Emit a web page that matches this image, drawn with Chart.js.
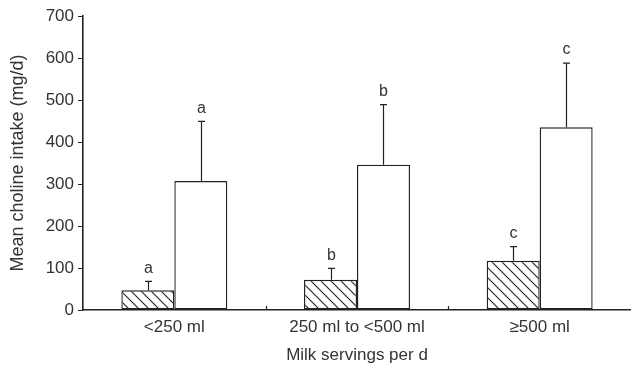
<!DOCTYPE html>
<html>
<head>
<meta charset="utf-8">
<script src="https://cdn.jsdelivr.net/npm/chart.js@4.4.0/dist/chart.umd.min.js"></script>
<style>
  html, body { margin: 0; padding: 0; background: #fff; }
  #wrap { width: 631px; height: 370px; }
</style>
</head>
<body>
<div id="wrap"><canvas id="chart-1"></canvas></div>
<script>
// data
const categories = ["<250 ml", "250 ml to <500 ml", "\u2265500 ml"];
const hatchedMeans = [47, 72, 117];
const hatchedSD = [21, 27, 34];
const openMeans = [307, 346, 435];
const openSD = [142, 143, 153];
const letters = ["a", "b", "c"];
const yTicks = [0, 100, 200, 300, 400, 500, 600, 700];

const ink = "#222";
const textColor = "#333";
const fontFamily = "'Liberation Sans', Arial, sans-serif";

// diagonal hatch pattern (top-left to bottom-right)
function makeHatch() {
  const size = 10;
  const c = document.createElement("canvas");
  c.width = size;
  c.height = size;
  const g = c.getContext("2d");
  g.fillStyle = "#fff";
  g.fillRect(0, 0, size, size);
  g.strokeStyle = "#222";
  g.lineWidth = 1.1;
  g.beginPath();
  g.moveTo(-1, -1);
  g.lineTo(size + 1, size + 1);
  g.moveTo(-1, size - 1);
  g.lineTo(1, size + 1);
  g.moveTo(size - 1, -1);
  g.lineTo(size + 1, 1);
  g.stroke();
  return g.createPattern(c, "repeat");
}

// error bars, letters and inward x ticks
const extras = {
  id: "extras",
  afterDatasetsDraw(chart) {
    const ctx = chart.ctx;
    const y = chart.scales.y;
    const x = chart.scales.x;
    const sets = [
      { means: hatchedMeans, sd: hatchedSD },
      { means: openMeans, sd: openSD },
    ];
    ctx.save();
    ctx.strokeStyle = ink;
    ctx.lineWidth = 1.2;
    sets.forEach((s, di) => {
      const meta = chart.getDatasetMeta(di);
      meta.data.forEach((bar, i) => {
        const cx = Math.round(bar.x) + 0.5;
        const top = y.getPixelForValue(s.means[i]);
        const end = y.getPixelForValue(s.means[i] + s.sd[i]);
        ctx.beginPath();
        ctx.moveTo(cx, top);
        ctx.lineTo(cx, end);
        ctx.moveTo(cx - 3.5, end);
        ctx.lineTo(cx + 3.5, end);
        ctx.stroke();
        ctx.fillStyle = textColor;
        ctx.font = "16px " + fontFamily;
        ctx.textAlign = "center";
        ctx.textBaseline = "bottom";
        ctx.fillText(letters[i], cx, end - 5);
      });
    });
    // category boundary ticks, pointing up into the plot
    const base = chart.chartArea.bottom;
    for (let i = 0; i < categories.length - 1; i++) {
      const px = Math.round((x.getPixelForValue(i) + x.getPixelForValue(i + 1)) / 2) + 0.5;
      ctx.beginPath();
      ctx.moveTo(px, base);
      ctx.lineTo(px, base - 4);
      ctx.stroke();
    }
    ctx.restore();
  },
};

const ctx1 = document.getElementById("chart-1").getContext("2d");
const hatch = makeHatch();
const myChart = new Chart(ctx1, {
  type: "bar",
  data: {
    labels: categories,
    datasets: [
      {
        label: "hatched",
        data: hatchedMeans,
        backgroundColor: hatch,
        borderColor: ink,
        borderWidth: 1.4,
        borderSkipped: false,
        categoryPercentage: 0.58,
        barPercentage: 1.0,
      },
      {
        label: "open",
        data: openMeans,
        backgroundColor: "#fff",
        borderColor: ink,
        borderWidth: 1.4,
        borderSkipped: false,
        categoryPercentage: 0.58,
        barPercentage: 1.0,
      },
    ],
  },
  options: {
    responsive: true,
    maintainAspectRatio: false,
    animation: false,
    layout: { padding: { top: 16, right: 0, left: 0, bottom: 0 } },
    plugins: {
      legend: { display: false },
      tooltip: { enabled: false },
    },
    scales: {
      x: {
        grid: { display: false, drawTicks: false },
        border: { color: ink, width: 1.6 },
        ticks: {
          color: textColor,
          font: { family: fontFamily, size: 17 },
          padding: 7,
        },
        title: {
          display: true,
          text: "Milk servings per d",
          color: textColor,
          font: { family: fontFamily, size: 17 },
          padding: { top: 0, bottom: 4 },
        },
        afterFit(scale) { scale.height = 60; },
      },
      y: {
        min: 0,
        max: 700,
        afterBuildTicks(scale) {
          scale.ticks = yTicks.map((v) => ({ value: v }));
        },
        grid: {
          drawOnChartArea: false,
          tickLength: 5,
          color: ink,
          tickColor: ink,
        },
        border: { color: ink, width: 1.6 },
        ticks: {
          color: textColor,
          font: { family: fontFamily, size: 17 },
          padding: 4,
        },
        title: {
          display: true,
          text: "Mean choline intake (mg/d)",
          color: textColor,
          font: { family: fontFamily, size: 18 },
          padding: { top: 7, bottom: 0 },
        },
        afterFit(scale) { scale.width = 83; },
      },
    },
  },
  plugins: [extras],
});
</script>
</body>
</html>
